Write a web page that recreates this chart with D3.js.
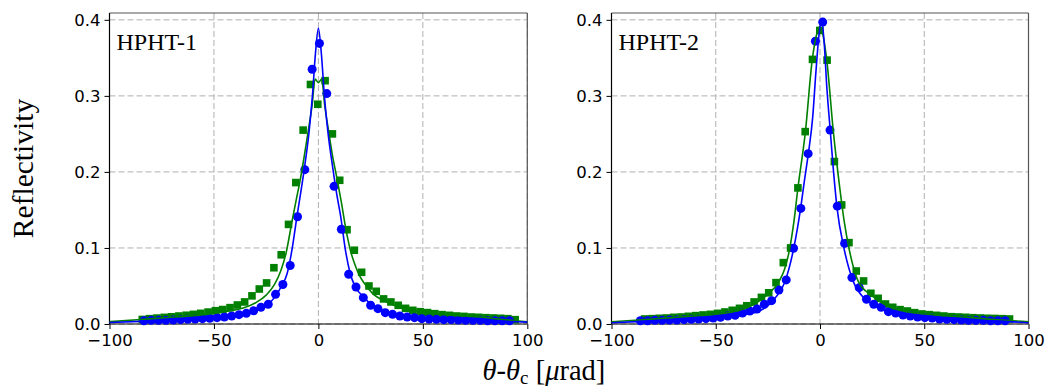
<!DOCTYPE html>
<html>
<head>
<meta charset="utf-8">
<script src="https://cdn.jsdelivr.net/npm/d3@7"></script>
<style>
  body { margin: 0; background: #fff; }
  svg { display: block; }
</style>
</head>
<body>
<div id="chart"></div>
<script>
// ---- HPHT-1 measured points ----
const blue1X = [-83.5, -80, -76.5, -73, -69.5, -66, -62.5, -59, -55.5, -52, -48.5, -45, -41.5, -38, -34.5, -31, -27.5, -24, -20.5, -17, -13.5, -10, -6.5, -3, 0.5, 4, 7.5, 11, 14.5, 18, 21.5, 25, 28.5, 32, 35.5, 39, 42.5, 46, 49.5, 53, 56.5, 60, 63.5, 67, 70.5, 74, 77.5, 81, 84.5, 88, 91.5];
const blue1Y = [0.0043, 0.0048, 0.0048, 0.0048, 0.0052, 0.0057, 0.0061, 0.0066, 0.007, 0.0075, 0.0083, 0.0092, 0.0105, 0.0123, 0.014, 0.0175, 0.022, 0.026, 0.039, 0.052, 0.077, 0.141, 0.203, 0.335, 0.369, 0.303, 0.181, 0.1246, 0.0654, 0.0487, 0.0346, 0.0246, 0.0202, 0.0149, 0.0127, 0.0105, 0.0092, 0.0083, 0.007, 0.0066, 0.0061, 0.0057, 0.0057, 0.0052, 0.0048, 0.0048, 0.0048, 0.0043, 0.0043, 0.0043, 0.0043];
const green1X = [-84.3, -80.8, -77.3, -73.8, -70.3, -66.8, -63.3, -59.8, -56.3, -52.8, -49.3, -45.8, -42.3, -38.8, -35.3, -31.8, -28.3, -24.8, -21.3, -17.8, -14.3, -10.8, -7.3, -3.8, -0.3, 3.2, 6.7, 10.2, 13.7, 17.2, 20.7, 24.2, 27.7, 31.2, 34.7, 38.2, 41.7, 45.2, 48.7, 52.2, 55.7, 59.2, 62.7, 66.2, 69.7, 73.2, 76.7, 80.2, 83.7, 87.2, 90.7, 94.2];
const green1Y = [0.006, 0.007, 0.0078, 0.0087, 0.0095, 0.0105, 0.0115, 0.0127, 0.014, 0.0157, 0.0175, 0.019, 0.0215, 0.025, 0.029, 0.037, 0.046, 0.054, 0.074, 0.091, 0.131, 0.186, 0.255, 0.315, 0.289, 0.320, 0.250, 0.189, 0.124, 0.097, 0.068, 0.050, 0.043, 0.033, 0.029, 0.0246, 0.0206, 0.018, 0.0162, 0.015, 0.0136, 0.0123, 0.0114, 0.0105, 0.010, 0.0092, 0.0088, 0.0083, 0.0079, 0.0075, 0.007, 0.0057];

// ---- HPHT-1 fitted curves ----
const fitBlue1X = [-100, -85, -70, -60, -50, -40, -30, -25, -20.4, -17.8, -15, -12.5, -10.3, -8.5, -6.8, -4.5, -2.9, -1.4, 0, 1.4, 2.9, 4.5, 7, 8.7, 10.7, 12.8, 15.2, 17.6, 21.5, 25, 32.7, 40, 50, 60, 75, 85, 100];
const fitBlue1Y = [0.002, 0.0035, 0.005, 0.0062, 0.0082, 0.011, 0.017, 0.024, 0.037, 0.049, 0.066, 0.1, 0.141, 0.172, 0.203, 0.252, 0.299, 0.356, 0.389, 0.356, 0.299, 0.254, 0.203, 0.172, 0.141, 0.0996, 0.0667, 0.049, 0.036, 0.026, 0.016, 0.0115, 0.0085, 0.007, 0.0055, 0.004, 0.0025];
const fitGreen1X = [-100, -85, -72, -60, -50, -42, -36, -30, -25, -21, -18, -15.5, -12.5, -10.5, -8.8, -6.7, -4.8, -3, -1.6, 0, 1.6, 3, 4.8, 6.7, 9, 11, 13, 15.5, 17.5, 20, 22, 26, 32.7, 40, 50, 62, 76, 88, 100];
const fitGreen1Y = [0.003, 0.006, 0.0085, 0.011, 0.014, 0.0175, 0.021, 0.028, 0.038, 0.052, 0.07, 0.093, 0.137, 0.165, 0.188, 0.222, 0.255, 0.288, 0.322, 0.3175, 0.322, 0.288, 0.255, 0.222, 0.19, 0.16, 0.127, 0.095, 0.078, 0.062, 0.0535, 0.04, 0.029, 0.021, 0.016, 0.012, 0.0096, 0.006, 0.003];

// ---- HPHT-2 measured points ----
const blue2X = [-86.2, -82.7, -79.2, -75.7, -72.2, -68.7, -65.2, -61.7, -58.2, -54.7, -51.2, -47.7, -44.2, -40.7, -37.2, -33.7, -30.2, -26.7, -23.2, -19.7, -16.2, -12.7, -9.2, -5.7, -2.2, 1.3, 4.8, 8.3, 11.8, 15.3, 18.8, 22.3, 25.8, 29.3, 32.8, 36.3, 39.8, 43.3, 46.8, 50.3, 53.8, 57.3, 60.8, 64.3, 67.8, 71.3, 74.8, 78.3, 81.8, 85.3, 88.8];
const blue2Y = [0.0043, 0.0043, 0.0048, 0.0048, 0.0052, 0.0052, 0.0057, 0.0061, 0.0066, 0.007, 0.0079, 0.0088, 0.0105, 0.0114, 0.0145, 0.0171, 0.0197, 0.026, 0.0307, 0.0447, 0.058, 0.0996, 0.152, 0.224, 0.372, 0.397, 0.255, 0.155, 0.106, 0.061, 0.0478, 0.0325, 0.026, 0.022, 0.0162, 0.0145, 0.0118, 0.0105, 0.0092, 0.0083, 0.0079, 0.0066, 0.0061, 0.0057, 0.0052, 0.0048, 0.0048, 0.0048, 0.0043, 0.0043, 0.0043];
const green2X = [-84.1, -80.6, -77.1, -73.6, -70.1, -66.6, -63.1, -59.6, -56.1, -52.6, -49.1, -45.6, -42.1, -38.6, -35.1, -31.6, -28.1, -24.6, -21.1, -17.6, -14.1, -10.6, -7.1, -3.6, -0.1, 3.4, 6.9, 10.4, 13.9, 17.4, 20.9, 24.4, 27.9, 31.4, 34.9, 38.4, 41.9, 45.4, 48.9, 52.4, 55.9, 59.4, 62.9, 66.4, 69.9, 73.4, 76.9, 80.4, 83.9, 87.4, 90.9];
const green2Y = [0.0066, 0.007, 0.0075, 0.0079, 0.0088, 0.0092, 0.0101, 0.011, 0.0119, 0.0127, 0.014, 0.0158, 0.018, 0.0206, 0.024, 0.029, 0.035, 0.041, 0.0544, 0.0807, 0.100, 0.179, 0.253, 0.348, 0.386, 0.347, 0.2136, 0.1566, 0.107, 0.0697, 0.0566, 0.0404, 0.0338, 0.0263, 0.022, 0.0189, 0.0171, 0.0149, 0.0132, 0.0123, 0.0114, 0.0105, 0.0096, 0.0092, 0.0088, 0.0083, 0.0079, 0.0075, 0.0073, 0.007, 0.0066];

// ---- HPHT-2 fitted curves ----
const fitBlue2X = [-100, -85, -73.5, -60, -50, -41.6, -35, -30, -25, -21.6, -16.8, -12.6, -9.3, -7.5, -5.6, -3.5, -2, -0.5, 0.8, 2, 3.3, 4.9, 6.5, 8.2, 11.5, 16, 21.2, 25, 30, 36, 43.2, 55, 65, 75, 88, 100];
const fitBlue2Y = [0.0017, 0.0035, 0.0053, 0.007, 0.0082, 0.0096, 0.013, 0.016, 0.024, 0.0338, 0.0557, 0.0996, 0.152, 0.188, 0.224, 0.272, 0.33, 0.38, 0.399, 0.37, 0.31, 0.255, 0.2, 0.152, 0.0996, 0.0557, 0.0338, 0.026, 0.019, 0.013, 0.0095, 0.0075, 0.0065, 0.005, 0.0035, 0.0017];
const fitGreen2X = [-100, -85, -65.6, -50, -41.6, -33, -25.6, -19.7, -17, -14.5, -12.5, -10.6, -7, -3.7, -1.5, -0.3, 1, 3.2, 6.4, 9.5, 11.5, 13.9, 16, 18.4, 25, 32, 42, 55, 70, 85, 100];
const fitGreen2Y = [0.003, 0.0055, 0.0096, 0.013, 0.016, 0.024, 0.038, 0.0557, 0.072, 0.0996, 0.135, 0.1785, 0.253, 0.348, 0.382, 0.391, 0.385, 0.348, 0.253, 0.1785, 0.137, 0.0996, 0.075, 0.0557, 0.037, 0.024, 0.016, 0.012, 0.009, 0.0055, 0.003];

const xTicks = [-100, -50, 0, 50, 100];
const yTicks = [0, 0.1, 0.2, 0.3, 0.4];

const width = 1050, height = 390;
const plotTop = 13, plotBottom = 324;
const BLUE = '#0000ff', GREEN = '#008000';
const serif = '"Liberation Serif", "Times New Roman", serif';

const svg = d3.select('#chart').append('svg')
  .attr('width', width)
  .attr('height', height);

svg.append('rect').attr('width', width).attr('height', height).attr('fill', '#fff');

const zip = (xs, ys) => xs.map((v, i) => [v, ys[i]]);

function drawPanel(p) {
  const x = d3.scaleLinear().domain([-100, 100]).range([p.left, p.right]);
  const y = d3.scaleLinear().domain([0, 0.409]).range([plotBottom, plotTop]);
  const g = svg.append('g');

  // dashed grid
  g.append('g').selectAll('line').data(xTicks).join('line')
    .attr('x1', d => x(d)).attr('x2', d => x(d))
    .attr('y1', plotTop).attr('y2', plotBottom)
    .attr('stroke', '#b0b0b0').attr('stroke-width', 1)
    .attr('stroke-dasharray', '6,3');
  g.append('g').selectAll('line').data(yTicks).join('line')
    .attr('x1', p.left).attr('x2', p.right)
    .attr('y1', d => y(d)).attr('y2', d => y(d))
    .attr('stroke', '#b0b0b0').attr('stroke-width', 1)
    .attr('stroke-dasharray', '6,3');

  // axes
  const xAxis = d3.axisBottom(x).tickValues(xTicks).tickSize(5).tickPadding(5)
    .tickFormat(d3.format('d'));
  const yAxis = d3.axisLeft(y).tickValues(yTicks).tickSize(5).tickPadding(4)
    .tickFormat(d3.format('.1f'));

  const gx = g.append('g').attr('transform', `translate(0,${plotBottom})`).call(xAxis);
  const gy = g.append('g').attr('transform', `translate(${p.left},0)`).call(yAxis);
  [gx, gy].forEach(a => {
    a.select('.domain').remove();
    a.selectAll('.tick line').attr('stroke', '#000');
    a.selectAll('.tick text')
      .attr('fill', '#000')
      .style('font-family', '"DejaVu Sans", sans-serif')
      .style('font-size', '16.5px');
  });

  // frame
  g.append('line').attr('x1', p.left).attr('x2', p.right).attr('y1', plotTop).attr('y2', plotTop)
    .attr('stroke', '#555').attr('stroke-width', 1.2);
  g.append('line').attr('x1', p.right).attr('x2', p.right).attr('y1', plotTop).attr('y2', plotBottom)
    .attr('stroke', '#555').attr('stroke-width', 1.2);
  g.append('line').attr('x1', p.left).attr('x2', p.left).attr('y1', plotTop).attr('y2', plotBottom)
    .attr('stroke', '#000').attr('stroke-width', 1.2);
  g.append('line').attr('x1', p.left).attr('x2', p.right).attr('y1', plotBottom).attr('y2', plotBottom)
    .attr('stroke', '#000').attr('stroke-width', 1.2);

  // measured points
  g.append('g').selectAll('rect').data(zip(p.greenX, p.greenY)).join('rect')
    .attr('x', d => x(d[0]) - 3.8).attr('y', d => y(d[1]) - 3.8)
    .attr('width', 7.6).attr('height', 7.6)
    .attr('fill', GREEN);
  g.append('g').selectAll('circle').data(zip(p.blueX, p.blueY)).join('circle')
    .attr('cx', d => x(d[0])).attr('cy', d => y(d[1]))
    .attr('r', 4.5)
    .attr('fill', BLUE);

  // fitted curves
  const line = d3.line().x(d => x(d[0])).y(d => y(d[1])).curve(d3.curveMonotoneX);
  g.append('path').datum(zip(p.fitGreenX, p.fitGreenY))
    .attr('d', line).attr('fill', 'none').attr('stroke', GREEN).attr('stroke-width', 1.6);
  g.append('path').datum(zip(p.fitBlueX, p.fitBlueY))
    .attr('d', line).attr('fill', 'none').attr('stroke', BLUE).attr('stroke-width', 1.6);

  // sample label
  g.append('text')
    .attr('x', p.left + 7).attr('y', 50)
    .style('font-family', serif)
    .style('font-size', '24px')
    .attr('fill', '#000')
    .text(p.label);
}

drawPanel({
  left: 109.5, right: 527.3, label: 'HPHT-1',
  blueX: blue1X, blueY: blue1Y, greenX: green1X, greenY: green1Y,
  fitBlueX: fitBlue1X, fitBlueY: fitBlue1Y, fitGreenX: fitGreen1X, fitGreenY: fitGreen1Y
});
drawPanel({
  left: 611.5, right: 1028.5, label: 'HPHT-2',
  blueX: blue2X, blueY: blue2Y, greenX: green2X, greenY: green2Y,
  fitBlueX: fitBlue2X, fitBlueY: fitBlue2Y, fitGreenX: fitGreen2X, fitGreenY: fitGreen2Y
});

// shared axis titles
svg.append('text')
  .attr('transform', `translate(33,${(plotTop + plotBottom) / 2}) rotate(-90)`)
  .attr('text-anchor', 'middle')
  .style('font-family', serif)
  .style('font-size', '29.5px')
  .text('Reflectivity');

const xt = svg.append('text')
  .attr('x', 544).attr('y', 380)
  .attr('text-anchor', 'middle')
  .style('font-family', serif)
  .style('font-size', '28.5px');
xt.append('tspan').style('font-style', 'italic').text('θ');
xt.append('tspan').text('-');
xt.append('tspan').style('font-style', 'italic').text('θ');
xt.append('tspan').attr('dy', 4).style('font-size', '19px').text('c');
xt.append('tspan').attr('dy', -4).text(' [');
xt.append('tspan').style('font-style', 'italic').text('μ');
xt.append('tspan').text('rad]');
</script>
</body>
</html>
